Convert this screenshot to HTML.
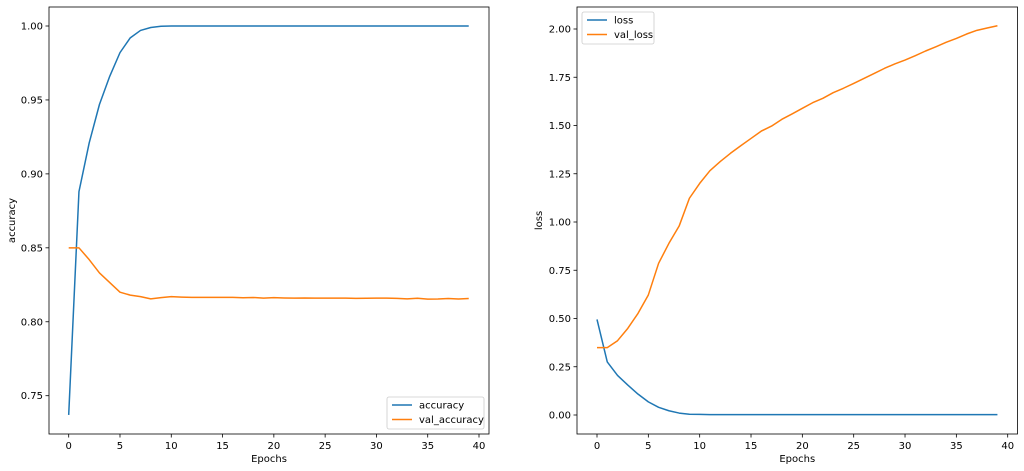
<!DOCTYPE html>
<html><head><meta charset="utf-8"><style>
html,body{margin:0;padding:0;background:#fff;width:1024px;height:471px;overflow:hidden}
svg{display:block;font-family:"DejaVu Sans","Liberation Sans",sans-serif}
</style></head><body>
<svg id="chart" width="1024" height="471"></svg>
<script>
const epochs = Array.from({length:40},(_,i)=>i);
const accuracy = [0.737,0.888,0.921,0.947,0.966,0.982,0.992,0.997,0.999,0.9998,1,1,1,1,1,1,1,1,1,1,1,1,1,1,1,1,1,1,1,1,1,1,1,1,1,1,1,1,1,1];
const valAccuracy = [0.850,0.850,0.842,0.833,0.8265,0.820,0.818,0.817,0.8155,0.8163,0.817,0.8167,0.8165,0.8165,0.8165,0.8165,0.8165,0.8162,0.8164,0.816,0.8163,0.8161,0.816,0.8161,0.816,0.816,0.816,0.816,0.8158,0.8159,0.816,0.816,0.8158,0.8155,0.8159,0.8153,0.8154,0.8157,0.8154,0.8157];
const loss = [0.495,0.275,0.205,0.155,0.108,0.068,0.04,0.022,0.01,0.004,0.003,0.002,0.002,0.002,0.002,0.002,0.002,0.002,0.002,0.002,0.002,0.002,0.002,0.002,0.002,0.002,0.002,0.002,0.002,0.002,0.002,0.002,0.002,0.002,0.002,0.002,0.002,0.002,0.002,0.002];
const valLoss = [0.349,0.349,0.385,0.449,0.527,0.622,0.786,0.889,0.979,1.123,1.2,1.266,1.313,1.356,1.395,1.433,1.471,1.497,1.532,1.56,1.589,1.618,1.641,1.67,1.693,1.718,1.744,1.77,1.796,1.819,1.839,1.862,1.886,1.908,1.931,1.951,1.974,1.993,2.005,2.017];
const xTicks = [0,5,10,15,20,25,30,35,40];
const accTicks = [0.75,0.80,0.85,0.90,0.95,1.00];
const lossTicks = [0,0.25,0.5,0.75,1.0,1.25,1.5,1.75,2.0];

const NS="http://www.w3.org/2000/svg";
const svg=document.getElementById('chart');
function mk(tag,attrs,parent){const e=document.createElementNS(NS,tag);for(const k in attrs)e.setAttribute(k,attrs[k]);(parent||svg).appendChild(e);return e;}

function panel(cfg){
  const g=mk('g',{});
  
  
  const X=v=>cfg.x0+(v-0)*(cfg.x40-cfg.x0)/40;
  const Y=v=>cfg.yA+(v-cfg.vA)*(cfg.yB-cfg.yA)/(cfg.vB-cfg.vA);
  xTicks.forEach(t=>{
    const x=X(t);
    mk('line',{x1:x,x2:x,y1:cfg.bottom,y2:cfg.bottom+3.5,stroke:'#000','stroke-width':0.8},g);
    const tx=mk('text',{x:x,y:cfg.bottom+15,'font-size':10,'text-anchor':'middle',fill:'#000'},g);
    tx.textContent=t;
    
    
  });
  cfg.yTicks.forEach(t=>{
    const y=Y(t);
    mk('line',{x1:cfg.left-3.5,x2:cfg.left,y1:y,y2:y,stroke:'#000','stroke-width':0.8},g);
    const tx=mk('text',{x:cfg.left-6,y:y+3.5,'font-size':10,'text-anchor':'end',fill:'#000'},g);
    tx.textContent=t.toFixed(2);
    
    
  });
  cfg.series.forEach(s=>{
    const p=mk('polyline',{points:epochs.map((e,i)=>X(e)+','+Y(s.data[i])).join(' '),fill:'none',stroke:s.color,'stroke-width':1.5,'stroke-linejoin':'round'},g);
    
    
  });
  mk('rect',{x:cfg.left,y:cfg.top,width:cfg.right-cfg.left,height:cfg.bottom-cfg.top,fill:'none',stroke:'#000','stroke-width':0.8},g);
  const xl=mk('text',{x:(cfg.left+cfg.right)/2,y:cfg.bottom+28,'font-size':10,'text-anchor':'middle'},g);
  xl.textContent='Epochs';
  
  
  const yl=mk('text',{x:0,y:0,'font-size':10,'text-anchor':'middle',transform:`translate(${cfg.ylx},${(cfg.top+cfg.bottom)/2}) rotate(-90)`},g);
  yl.textContent=cfg.ylabel;
  
  
  const L=cfg.legend;
  const lg=mk('g',{},g);
  
  
  mk('rect',{x:L.x,y:L.y,width:L.w,height:32,rx:2,fill:'#fff','fill-opacity':0.8,stroke:'#ccc','stroke-width':0.8},lg);
  cfg.series.forEach((s,i)=>{
    const yy=L.y+8+i*14.5;
    mk('line',{x1:L.x+5,x2:L.x+25,y1:yy,y2:yy,stroke:s.color,'stroke-width':1.5},lg);
    const t=mk('text',{x:L.x+32,y:yy+3.5,'font-size':10},lg);
    t.textContent=s.id;
    
    
  });
}
panel({name:'accuracy-chart',left:49,right:489,top:7,bottom:434,x0:68.7,x40:479,yA:26,vA:1.0,yB:395.7,vB:0.75,yTicks:accTicks,ylabel:'accuracy',ylx:15,
  series:[{id:'accuracy',data:accuracy,color:'#1f77b4'},{id:'val_accuracy',data:valAccuracy,color:'#ff7f0e'}],legend:{x:387,y:397,w:97}});
panel({name:'loss-chart',left:577,right:1017.5,top:7,bottom:434,x0:597,x40:1007.7,yA:415,vA:0,yB:29,vB:2.0,yTicks:lossTicks,ylabel:'loss',ylx:542,
  series:[{id:'loss',data:loss,color:'#1f77b4'},{id:'val_loss',data:valLoss,color:'#ff7f0e'}],legend:{x:582,y:12,w:72}});
</script>
</body></html>
